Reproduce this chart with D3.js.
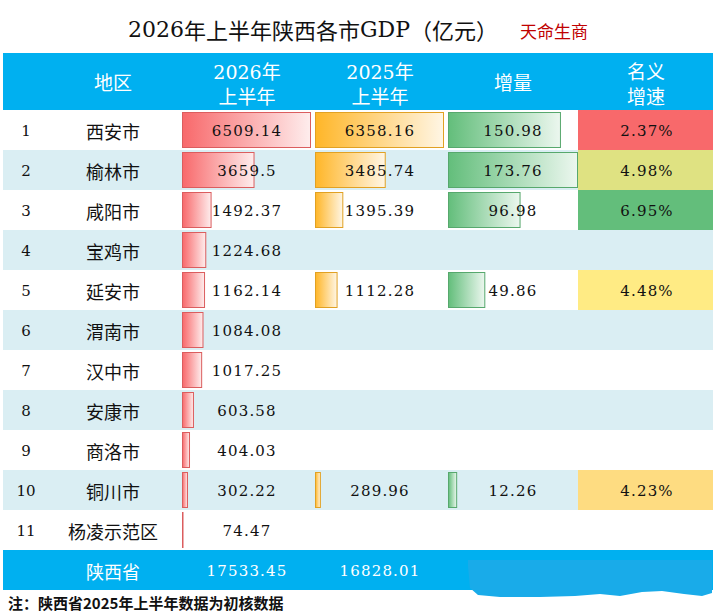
<!DOCTYPE html>
<html>
<head>
<meta charset="utf-8">
<script src="https://cdn.jsdelivr.net/npm/d3@7"></script>
<style>
  body { margin: 0; background: #fff; }
  svg { display: block; }
</style>
</head>
<body>
<div class="container"></div>
<script>
// chart data
const regions = ['西安市', '榆林市', '咸阳市', '宝鸡市', '延安市', '渭南市', '汉中市', '安康市', '商洛市', '铜川市', '杨凌示范区']
const gdp2026 = [6509.14, 3659.5, 1492.37, 1224.68, 1162.14, 1084.08, 1017.25, 603.58, 404.03, 302.22, 74.47]
const gdp2025 = [6358.16, 3485.74, 1395.39, null, 1112.28, null, null, null, null, 289.96, null]
const increment = [150.98, 173.76, 96.98, null, 49.86, null, null, null, null, 12.26, null]
const growth = [2.37, 4.98, 6.95, null, 4.48, null, null, null, null, 4.23, null]
const totalLabel = '陕西省'
const totals = [17533.45, 16828.01]
const headers = [['地区'], ['2026年', '上半年'], ['2025年', '上半年'], ['增量'], ['名义', '增速']]

const width = 715
const height = 614
const left = 3
const right = 713
const numFont = "'DejaVu Serif', 'Noto Sans CJK SC', serif"
const cjkFont = "'Noto Sans CJK SC', sans-serif"

// column layout
const col = {
    rank: 26,
    name: 113,
    c26: 182,
    c25: 315,
    inc: 448,
    gr: 578
}
const barMax = 129

const rows = regions.map((r, i) => ({
    rank: i + 1,
    name: r,
    v26: gdp2026[i],
    v25: gdp2025[i],
    inc: increment[i],
    gr: growth[i]
}))

let yScale = d3.scaleBand()
    .domain(rows.map(d => d.rank))
    .range([110, 550])

let x26 = d3.scaleLinear().domain([0, d3.max(gdp2026)]).range([0, barMax])
let x25 = d3.scaleLinear().domain([0, d3.max(gdp2025)]).range([0, barMax])
let xInc = d3.scaleLinear().domain([0, d3.max(increment)]).range([0, barMax + 1])

let grVals = growth.filter(v => v != null).sort(d3.ascending)
let grColor = d3.scaleLinear()
    .domain([d3.min(grVals), d3.median(grVals), d3.max(grVals)])
    .range(['#F8696B', '#FFEB84', '#63BE7B'])

let svg = d3.select('.container')
    .append('svg')
    .attr('width', width)
    .attr('height', height)

// gradients for data bars
const barColors = { red: '#F8696B', orange: '#FFB628', green: '#63BE7B' }
let defs = svg.append('defs')
Object.entries(barColors).forEach(([k, c]) => {
    let g = defs.append('linearGradient')
        .attr('id', 'grad-' + k)
        .attr('x1', 0).attr('x2', 1).attr('y1', 0).attr('y2', 0)
    g.append('stop').attr('offset', '0%').attr('stop-color', c)
    g.append('stop').attr('offset', '100%').attr('stop-color', d3.interpolateRgb(c, '#fff')(0.88))
})

// title
let title = svg.append('text')
    .attr('x', 128)
    .attr('y', 29)
    .attr('dominant-baseline', 'central')
    .style('font-family', numFont)
    .style('font-size', '22px')
    .attr('fill', '#111')
title.append('tspan').text('2026')
title.append('tspan').style('font-family', cjkFont).text('年上半年陕西各市')
title.append('tspan').text('GDP')
title.append('tspan').style('font-family', cjkFont).text('（亿元）')

svg.append('text')
    .attr('x', 520)
    .attr('y', 30)
    .attr('dominant-baseline', 'central')
    .style('font-family', cjkFont)
    .style('font-size', '17px')
    .attr('fill', '#C00000')
    .text('天命生商')

// header
svg.append('rect')
    .attr('x', left).attr('y', 53)
    .attr('width', right - left).attr('height', 57)
    .attr('fill', '#00B0F0')

const headX = [col.name, col.c26 + 65, col.c25 + 65, col.inc + 65, col.gr + 68]
headers.forEach((lines, i) => {
    lines.forEach((t, j) => {
        svg.append('text')
            .attr('x', headX[i])
            .attr('y', lines.length == 1 ? 83 : 72 + j * 25)
            .attr('text-anchor', 'middle')
            .attr('dominant-baseline', 'central')
            .style('font-family', numFont)
            .style('font-size', '19px')
            .attr('fill', '#fff')
            .text(t)
    })
})

// striped rows
svg.selectAll('.stripe')
    .data(rows.filter(d => d.rank % 2 == 0))
    .enter()
    .append('rect')
    .attr('class', 'stripe')
    .attr('x', left)
    .attr('y', d => yScale(d.rank))
    .attr('width', right - left)
    .attr('height', yScale.bandwidth())
    .attr('fill', '#DAEEF3')

// growth cells
svg.selectAll('.grcell')
    .data(rows.filter(d => d.gr != null))
    .enter()
    .append('rect')
    .attr('class', 'grcell')
    .attr('x', col.gr)
    .attr('y', d => yScale(d.rank))
    .attr('width', right - col.gr)
    .attr('height', yScale.bandwidth())
    .attr('fill', d => grColor(d.gr))

// data bars
const barCols = [
    { key: 'v26', x0: col.c26, scale: x26, color: 'red' },
    { key: 'v25', x0: col.c25, scale: x25, color: 'orange' },
    { key: 'inc', x0: col.inc, scale: xInc, color: 'green' }
]
barCols.forEach(bc => {
    let data = rows.filter(d => d[bc.key] != null)
    svg.selectAll('.bar-' + bc.key)
        .data(data)
        .enter()
        .append('rect')
        .attr('class', 'bar-' + bc.key)
        .attr('x', bc.x0 + 0.5)
        .attr('y', d => yScale(d.rank) + 2.5)
        .attr('width', d => Math.max(bc.scale(d[bc.key]) - 1, 0.5))
        .attr('height', yScale.bandwidth() - 5)
        .attr('fill', `url(#grad-${bc.color})`)
        .attr('stroke', d3.color(barColors[bc.color]).darker(0.35))
        .attr('stroke-width', 1)

    svg.selectAll('.val-' + bc.key)
        .data(data)
        .enter()
        .append('text')
        .attr('class', 'val-' + bc.key)
        .attr('x', bc.x0 + 65)
        .attr('y', d => yScale(d.rank) + yScale.bandwidth() / 2 + 1)
        .attr('text-anchor', 'middle')
        .attr('dominant-baseline', 'central')
        .style('font-family', numFont)
        .style('font-size', '15px')
        .style('letter-spacing', '1.2px')
        .attr('fill', '#111')
        .text(d => String(d[bc.key]))
})

// growth labels
svg.selectAll('.grlabel')
    .data(rows.filter(d => d.gr != null))
    .enter()
    .append('text')
    .attr('class', 'grlabel')
    .attr('x', col.gr + 69)
    .attr('y', d => yScale(d.rank) + yScale.bandwidth() / 2 + 1)
    .attr('text-anchor', 'middle')
    .attr('dominant-baseline', 'central')
    .style('font-family', numFont)
    .style('font-size', '15px')
    .style('letter-spacing', '1.2px')
    .attr('fill', '#111')
    .text(d => d.gr.toFixed(2) + '%')

// rank + name
svg.selectAll('.rank')
    .data(rows)
    .enter()
    .append('text')
    .attr('class', 'rank')
    .attr('x', col.rank)
    .attr('y', d => yScale(d.rank) + yScale.bandwidth() / 2 + 1)
    .attr('text-anchor', 'middle')
    .attr('dominant-baseline', 'central')
    .style('font-family', numFont)
    .style('font-size', '15px')
    .attr('fill', '#111')
    .text(d => d.rank)

svg.selectAll('.name')
    .data(rows)
    .enter()
    .append('text')
    .attr('class', 'name')
    .attr('x', col.name)
    .attr('y', d => yScale(d.rank) + yScale.bandwidth() / 2 + 1)
    .attr('text-anchor', 'middle')
    .attr('dominant-baseline', 'central')
    .style('font-family', cjkFont)
    .style('font-size', '18px')
    .attr('fill', '#111')
    .text(d => d.name)

// total row
svg.append('rect')
    .attr('x', left).attr('y', 550)
    .attr('width', right - left).attr('height', 40)
    .attr('fill', '#00B0F0')

// brush-stroke smear over the right part of the total row
let smear = [[468, 566], [470, 588], [478, 595], [500, 597], [540, 597], [575, 596], [600, 594],
    [620, 596], [642, 592], [662, 591], [684, 594], [702, 596], [712, 593], [712, 560], [468, 560]]
svg.append('path')
    .attr('d', d3.line().curve(d3.curveLinearClosed)(smear))
    .attr('fill', '#19ABE9')

svg.append('text')
    .attr('x', col.name).attr('y', 571)
    .attr('text-anchor', 'middle')
    .attr('dominant-baseline', 'central')
    .style('font-family', cjkFont)
    .style('font-size', '18px')
    .attr('fill', '#fff')
    .text(totalLabel)

svg.selectAll('.total')
    .data(totals)
    .enter()
    .append('text')
    .attr('class', 'total')
    .attr('x', (d, i) => [col.c26, col.c25][i] + 65)
    .attr('y', 571)
    .attr('text-anchor', 'middle')
    .attr('dominant-baseline', 'central')
    .style('font-family', numFont)
    .style('font-size', '15px')
    .style('letter-spacing', '1.2px')
    .attr('fill', '#fff')
    .text(d => d.toFixed(2))

// footnote
svg.append('text')
    .attr('x', 8).attr('y', 602)
    .attr('dominant-baseline', 'central')
    .style('font-family', cjkFont)
    .style('font-size', '15px')
    .style('font-weight', 'bold')
    .attr('fill', '#111')
    .text('注：陕西省2025年上半年数据为初核数据')
</script>
</body>
</html>
